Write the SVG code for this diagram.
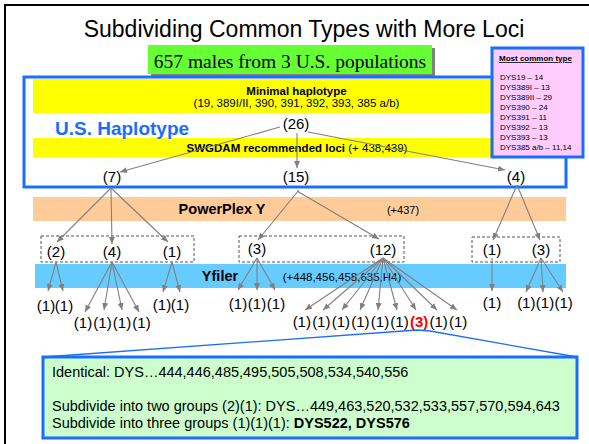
<svg xmlns="http://www.w3.org/2000/svg" width="589" height="444" viewBox="0 0 589 444">
<defs>
<marker id="ah" markerUnits="userSpaceOnUse" markerWidth="8" markerHeight="7" refX="7" refY="3" orient="auto">
<path d="M0,0 L7,3 L0,6 z" fill="#808080"/>
</marker>
<style>
text{font-family:"Liberation Sans",Arial,sans-serif;fill:#000}
.n{font-size:15px;text-anchor:middle}
.c line{stroke:#808080;stroke-width:1.1;marker-end:url(#ah)}
.dash{fill:#fff;stroke:#555;stroke-width:1;stroke-dasharray:3,2}
.pk{font-size:8px}
.bl{stroke:#1a6eff;stroke-width:3}
</style>
</defs>
<rect x="0" y="0" width="589" height="444" fill="#fff"/>
<rect x="5" y="5" width="640" height="500" fill="#fff" stroke="#000" stroke-width="2"/>
<text x="304" y="37" font-size="23" text-anchor="middle">Subdividing Common Types with More Loci</text>

<g id="populations">
<rect x="151" y="48" width="284" height="29" fill="#808080"/>
<rect x="148" y="45" width="284" height="29" fill="#66ff33"/>
<text x="290" y="68" font-size="19.5" text-anchor="middle" style="font-family:'Liberation Serif','Times New Roman',serif">657 males from 3 U.S. populations</text>
</g>

<g id="us-haplotype">
<rect x="24" y="77" width="542" height="110" fill="#fff" class="bl"/>
<rect x="33" y="79" width="524" height="34" fill="#ffff00"/>
<rect x="33" y="138" width="524" height="19" fill="#ffff00"/>
<text x="296.5" y="95" font-size="11.5" font-weight="bold" text-anchor="middle">Minimal haplotype</text>
<text x="296.5" y="107" font-size="11.5" text-anchor="middle">(19, 389I/II, 390, 391, 392, 393, 385 a/b)</text>
<text x="55" y="135" font-size="19" font-weight="bold" fill="#1a6eff" style="fill:#1a6eff">U.S. Haplotype</text>
<text x="297" y="152" font-size="11.5" text-anchor="middle"><tspan font-weight="bold">SWGDAM recommended loci</tspan> (+ 438,439)</text>
</g>

<g id="most-common">
<rect x="492" y="48" width="91" height="109" fill="#ffccff" class="bl"/>
<text x="499" y="61" font-size="8" font-weight="bold" text-decoration="underline">Most common type</text>
<text class="pk" x="500" y="80">DYS19 – 14</text>
<text class="pk" x="500" y="90">DYS389I – 13</text>
<text class="pk" x="500" y="100">DYS389II – 29</text>
<text class="pk" x="500" y="110">DYS390 – 24</text>
<text class="pk" x="500" y="120">DYS391 – 11</text>
<text class="pk" x="500" y="130">DYS392 – 13</text>
<text class="pk" x="500" y="140">DYS393 – 13</text>
<text class="pk" x="500" y="150">DYS385 a/b – 11,14</text>
</g>

<g id="powerplex">
<rect x="33" y="197" width="533" height="24" fill="#ffcc99"/>
<text x="222" y="214" font-size="14.5" font-weight="bold" text-anchor="middle">PowerPlex Y</text>
<text x="403" y="214" font-size="11" text-anchor="middle">(+437)</text>
</g>

<g id="yfiler">
<rect x="35" y="264" width="531" height="24" fill="#66ccff"/>
<text x="220" y="281" font-size="14.5" font-weight="bold" text-anchor="middle">Yfiler</text>
<text x="342" y="281" font-size="11.5" text-anchor="middle">(+448,456,458,635,H4)</text>
</g>

<g id="groups">
<rect class="dash" x="41" y="236" width="153" height="26"/>
<rect class="dash" x="239" y="236" width="165" height="26"/>
<rect class="dash" x="472" y="237" width="88" height="25"/>
</g>

<g id="nodes">
<text class="n" x="296" y="129">(26)</text>
<text class="n" x="112" y="182">(7)</text>
<text class="n" x="296" y="182">(15)</text>
<text class="n" x="516" y="182">(4)</text>
<text class="n" x="56" y="257">(2)</text>
<text class="n" x="112" y="257">(4)</text>
<text class="n" x="172" y="257">(1)</text>
<text class="n" x="257" y="254">(3)</text>
<text class="n" x="383" y="255">(12)</text>
<text class="n" x="492" y="255">(1)</text>
<text class="n" x="541" y="255">(3)</text>
</g>

<g id="leaves">
<text class="n" x="46" y="311">(1)</text>
<text class="n" x="64" y="311">(1)</text>
<text class="n" x="83" y="328">(1)</text>
<text class="n" x="102.5" y="328">(1)</text>
<text class="n" x="122" y="328">(1)</text>
<text class="n" x="141.5" y="328">(1)</text>
<text class="n" x="162" y="310">(1)</text>
<text class="n" x="180" y="310">(1)</text>
<text class="n" x="238" y="309">(1)</text>
<text class="n" x="257" y="309">(1)</text>
<text class="n" x="276" y="309">(1)</text>
<text class="n" x="301.8" y="327">(1)</text>
<text class="n" x="321.3" y="327">(1)</text>
<text class="n" x="340.9" y="327">(1)</text>
<text class="n" x="360.4" y="327">(1)</text>
<text class="n" x="380" y="327">(1)</text>
<text class="n" x="399.5" y="327">(1)</text>
<text class="n" x="419.1" y="327" font-weight="bold" style="fill:#ff0000">(3)</text>
<text class="n" x="438.6" y="327">(1)</text>
<text class="n" x="458.2" y="327">(1)</text>
<text class="n" x="492" y="308">(1)</text>
<text class="n" x="526.3" y="308">(1)</text>
<text class="n" x="545" y="308">(1)</text>
<text class="n" x="563.7" y="308">(1)</text>
</g>

<g id="connectors" class="c">
<line x1="280" y1="127" x2="120" y2="172"/>
<line x1="297" y1="133" x2="297" y2="168"/>
<line x1="308" y1="132" x2="505" y2="170"/>
<line x1="111" y1="188" x2="57" y2="242"/>
<line x1="111" y1="188" x2="112" y2="244"/>
<line x1="111" y1="188" x2="168" y2="242"/>
<line x1="299" y1="190" x2="258" y2="240"/>
<line x1="297" y1="191" x2="379" y2="239"/>
<line x1="517" y1="185" x2="493" y2="240"/>
<line x1="517" y1="185" x2="540" y2="240"/>
<line x1="56" y1="262" x2="48" y2="291"/>
<line x1="56" y1="262" x2="63" y2="291"/>
<line x1="112" y1="262" x2="85" y2="312"/>
<line x1="112" y1="262" x2="104" y2="310"/>
<line x1="112" y1="262" x2="122" y2="310"/>
<line x1="112" y1="262" x2="139" y2="312"/>
<line x1="172" y1="262" x2="163" y2="292"/>
<line x1="172" y1="262" x2="180" y2="292"/>
<line x1="257" y1="258" x2="238" y2="290"/>
<line x1="257" y1="258" x2="257" y2="290"/>
<line x1="257" y1="258" x2="275" y2="290"/>
<line x1="383" y1="258" x2="305" y2="310"/>
<line x1="383" y1="258" x2="323" y2="310"/>
<line x1="383" y1="258" x2="342" y2="310"/>
<line x1="383" y1="258" x2="360" y2="310"/>
<line x1="383" y1="258" x2="378" y2="310"/>
<line x1="383" y1="258" x2="397" y2="310"/>
<line x1="383" y1="258" x2="416" y2="310"/>
<line x1="383" y1="258" x2="437" y2="310"/>
<line x1="383" y1="258" x2="457" y2="310"/>
<line x1="492" y1="258" x2="492" y2="291"/>
<line x1="541" y1="258" x2="526" y2="292"/>
<line x1="541" y1="258" x2="543" y2="292"/>
<line x1="541" y1="258" x2="563" y2="292"/>
<polyline points="44,357 417,330 430,331 577,357" fill="none" stroke="#1a6eff" stroke-width="1.3" style="marker-end:none"/>
</g>

<g id="detail">
<rect x="43" y="357" width="534" height="81" fill="#ccffcc" class="bl"/>
<text x="52" y="377" font-size="14.5">Identical: DYS…444,446,485,495,505,508,534,540,556</text>
<text x="52" y="411" font-size="14.5">Subdivide into two groups (2)(1): DYS…449,463,520,532,533,557,570,594,643</text>
<text x="52" y="428" font-size="14.5">Subdivide into three groups (1)(1)(1): <tspan font-weight="bold">DYS522, DYS576</tspan></text>
</g>
</svg>
